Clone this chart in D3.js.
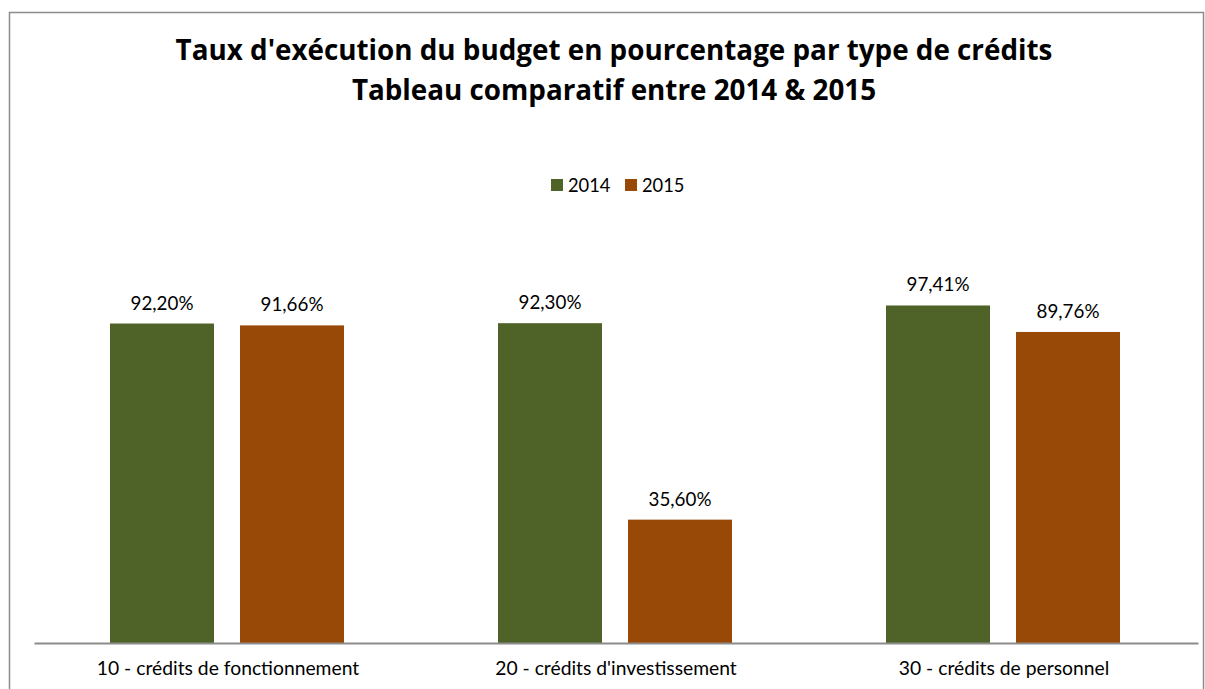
<!DOCTYPE html>
<html lang="fr">
<head>
  <meta charset="utf-8">
  <title>Taux d'exécution du budget</title>
  <script src="https://d3js.org/d3.v7.min.js"></script>
  <style>
    body { margin: 0; background: #fff; }
    svg text { font-family: Lato, "Open Sans", sans-serif; fill: #000; }
  </style>
</head>
<body>
  <div id="chart"></div>
  <script>
    "use strict";

    // donnees
    var categories = ["10 - crédits de fonctionnement", "20 - crédits d'investissement", "30 - crédits de personnel"];
    var annees = ["2014", "2015"];
    var taux2014 = [0.9220, 0.9230, 0.9741];
    var taux2015 = [0.9166, 0.3560, 0.8976];
    var couleurs = ["#4f6228", "#984807"];
    var titre = ["Taux d'exécution du budget en pourcentage par type de crédits",
                 "Tableau comparatif entre 2014 & 2015"];

    var largeur = 1205, hauteur = 689;

    var dados = [];
    categories.forEach(function (c, i) {
      dados.push({ cat: c, annee: "2014", v: taux2014[i] });
      dados.push({ cat: c, annee: "2015", v: taux2015[i] });
    });

    var svg = d3.select("#chart").append("svg")
      .attr("width", largeur)
      .attr("height", hauteur);

    // cadre du graphique
    svg.append("path")
      .attr("d", "M9.5,689 V12.5 H1203.5 V689")
      .attr("fill", "none")
      .attr("stroke", "#8c8c8c")
      .attr("stroke-width", 1.5);

    // escalas
    var xCat = d3.scaleBand().domain(categories).range([34, 1198]);
    var xAnnee = d3.scaleBand().domain(annees).range([76, 310]).paddingInner(0.2);
    var y = d3.scaleLinear().domain([0, 1.2]).range([643, 227.2]);
    var cor = d3.scaleOrdinal().domain(annees).range(couleurs);
    var fmt = function (v) { return d3.format(".2f")(v * 100).replace(".", ",") + "%"; };

    // barras
    svg.append("g").selectAll("rect")
      .data(dados)
      .enter().append("rect")
        .attr("x", function (d) { return xCat(d.cat) + xAnnee(d.annee); })
        .attr("y", function (d) { return y(d.v); })
        .attr("width", xAnnee.bandwidth())
        .attr("height", function (d) { return y(0) - y(d.v); })
        .attr("fill", function (d) { return cor(d.annee); });

    // etiquetas de valor
    svg.append("g").selectAll("text")
      .data(dados)
      .enter().append("text")
        .attr("x", function (d) { return xCat(d.cat) + xAnnee(d.annee) + xAnnee.bandwidth() / 2; })
        .attr("y", function (d) { return y(d.v) - 14; })
        .attr("text-anchor", "middle")
        .style("font-size", "18.8px")
        .text(function (d) { return fmt(d.v); });

    // eixo x
    var eixo = svg.append("g")
      .attr("transform", "translate(0,643)")
      .call(d3.axisBottom(xCat).tickSize(0).tickPadding(18));
    eixo.select(".domain").attr("stroke", "#8c8c8c").attr("stroke-width", 2);
    eixo.selectAll("text")
      .style("font-size", "19.3px")
      .style("font-family", "Lato, sans-serif")
      .attr("fill", "#000");

    // titulo
    svg.append("text")
      .attr("x", 614)
      .attr("text-anchor", "middle")
      .style("font-size", "27.8px")
      .style("font-weight", "bold")
      .style("font-family", "'Open Sans', sans-serif")
      .selectAll("tspan")
      .data(titre)
      .enter().append("tspan")
        .attr("x", 614)
        .attr("y", function (d, i) { return 60 + i * 40; })
        .text(function (d) { return d; });

    // legenda
    var leg = svg.append("g").selectAll("g")
      .data(annees)
      .enter().append("g")
        .attr("transform", function (d, i) { return "translate(" + (551 + i * 74) + ",179)"; });
    leg.append("rect")
      .attr("width", 12).attr("height", 12)
      .attr("fill", function (d) { return cor(d); });
    leg.append("text")
      .attr("x", 17).attr("y", 12.5)
      .style("font-size", "18.3px")
      .text(function (d) { return d; });
  </script>
</body>
</html>
